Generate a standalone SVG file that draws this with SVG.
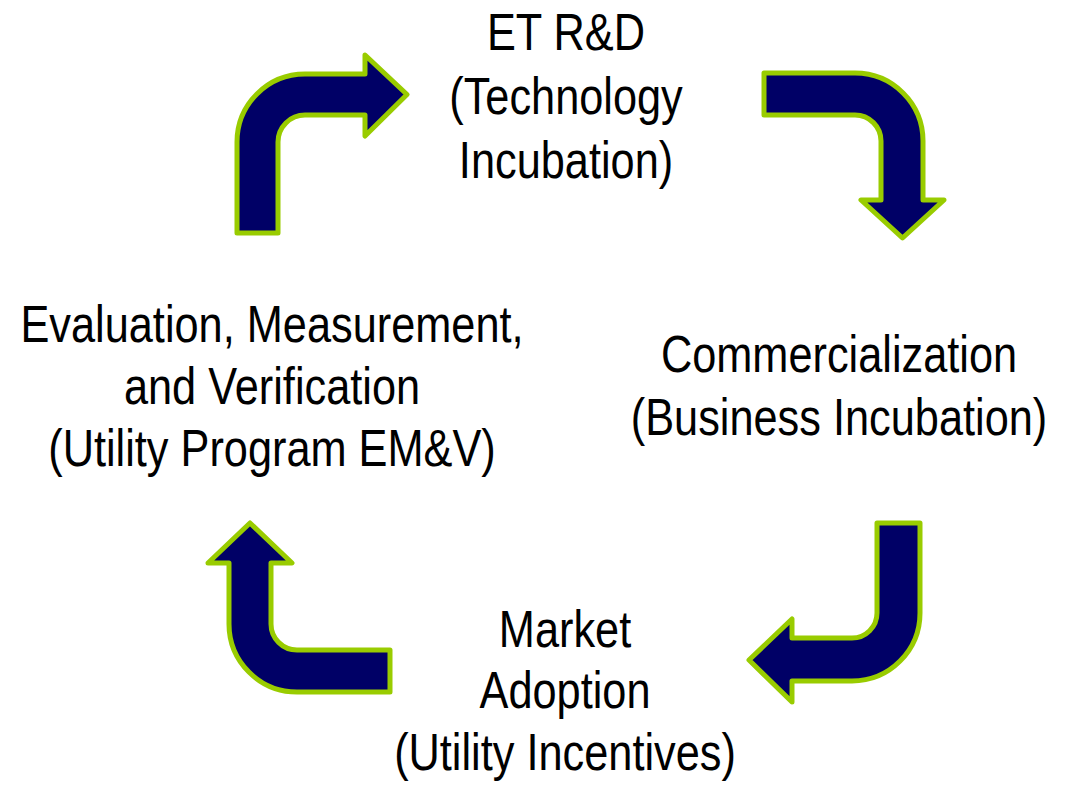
<svg xmlns="http://www.w3.org/2000/svg" width="1067" height="785" viewBox="0 0 1067 785">
<style>
.arrow{fill:#000066;stroke:#99CC00;stroke-width:5;stroke-linejoin:round}
.lbl{font-family:"Liberation Sans",Arial,sans-serif;font-size:52px;fill:#000;text-anchor:middle}
</style>
<rect width="1067" height="785" fill="#fff"/>
<g id="connectors">
<path class="arrow" d="M237,233 L237,142 A68,68 0 0 1 305,74 L365,74 L365,55 L407,94.5 L365,136 L365,115 L305,115 A27,27 0 0 0 278,142 L278,233 Z"/>
<path class="arrow" d="M764,73 L855,73 A68,68 0 0 1 923,141 L923,200 L944,200 L902.5,238 L861,200 L881,200 L881,141 A26,26 0 0 0 855,115 L764,115 Z"/>
<path class="arrow" d="M877,523 L920,523 L920,613 A68,68 0 0 1 852,681 L792,681 L792,702 L749,660 L792,619 L792,638 L852,638 A25,25 0 0 0 877,613 Z"/>
<path class="arrow" d="M390,692 L297,692 A68,68 0 0 1 229,624 L229,563 L208,563 L250,523 L292,563 L271,563 L271,624 A26,26 0 0 0 297,650 L390,650 Z"/>
</g>
<g id="node-etrd">
<text class="lbl" transform="translate(566,0) scale(0.833,1)"><tspan x="0" y="50">ET R&amp;D</tspan><tspan x="0" y="114">(Technology</tspan><tspan x="0" y="178">Incubation)</tspan></text>
</g>
<g id="node-commercialization">
<text class="lbl" transform="translate(839,0) scale(0.833,1)"><tspan x="0" y="372">Commercialization</tspan><tspan x="0" y="435">(Business Incubation)</tspan></text>
</g>
<g id="node-market">
<text class="lbl" transform="translate(565,0) scale(0.833,1)"><tspan x="0" y="647">Market</tspan><tspan x="0" y="708">Adoption</tspan><tspan x="0" y="770">(Utility Incentives)</tspan></text>
</g>
<g id="node-emv">
<text class="lbl" transform="translate(272,0) scale(0.833,1)"><tspan x="0" y="342">Evaluation, Measurement,</tspan><tspan x="0" y="404">and Verification</tspan><tspan x="0" y="466">(Utility Program EM&amp;V)</tspan></text>
</g>
</svg>
